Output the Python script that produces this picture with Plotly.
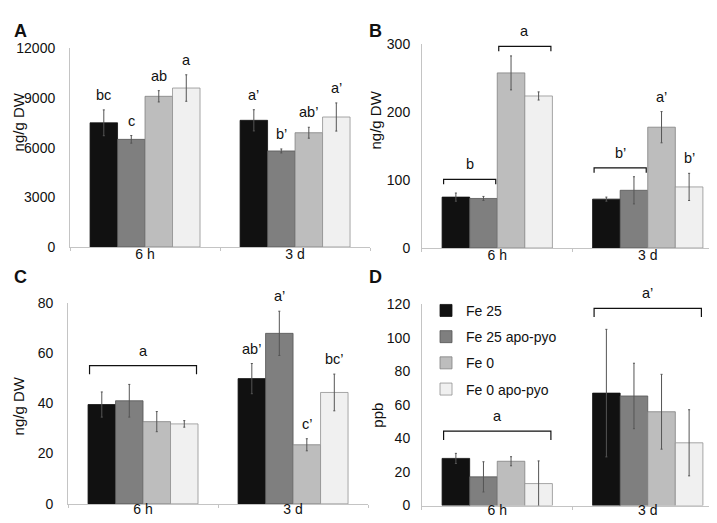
import plotly.graph_objects as go

categories = ["6 h", "3 d"]
series = ["Fe 25", "Fe 25 apo-pyo", "Fe 0", "Fe 0 apo-pyo"]
colors = ["#111111", "#7f7f7f", "#bdbdbd", "#f0f0f0"]
outlines = ["#111111", "#555555", "#808080", "#909090"]

# rows = series, columns = categories
a_means = [[7500, 7650], [6500, 5800], [9100, 6900], [9600, 7850]]
a_err = [[780, 640], [230, 120], [340, 330], [800, 850]]
a_letters = [["bc", "a’"], ["c", "b’"], ["ab", "ab’"], ["a", "a’"]]

b_means = [[75, 72], [73, 85], [258, 178], [224, 90]]
b_err = [[6, 3], [3, 20], [25, 23], [6, 20]]
b_letters = [[None, None], [None, None], [None, "a’"], [None, "b’"]]

c_means = [[39.5, 49.8], [41, 67.8], [32.7, 23.5], [31.8, 44.3]]
c_err = [[5, 6], [6.5, 8.8], [4, 2.4], [1.3, 7.3]]
c_letters = [[None, "ab’"], [None, "a’"], [None, "c’"], [None, "bc’"]]

d_means = [[28.1, 67], [17.1, 65.3], [26.4, 55.9], [13.1, 37.4]]
d_err = [[3, 38], [9, 19.5], [2.7, 22.3], [13.5, 19.7]]
d_letters = [[None, None], [None, None], [None, None], [None, None]]

# brackets: (category index, first bar, last bar, height, label)
b_brackets = [(0, 0, 1, 101, "b"), (0, 2, 3, 297, "a"), (1, 0, 1, 118, "b’")]
c_brackets = [(0, 0, 3, 55, "a")]
d_brackets = [(0, 0, 3, 44.3, "a"), (1, 0, 3, 117.5, "a’")]

panels = [
    dict(name="A", means=a_means, err=a_err, letters=a_letters, brackets=[],
         ymax=12000, dtick=3000, ytitle="ng/g DW",
         xdom=[0.0865, 0.505], ydom=[0.5444, 0.9363], tip=5,
         titlex=0.015, titley=0.7916, standoff=11, xstand=-6),
    dict(name="B", means=b_means, err=b_err, letters=b_letters, brackets=b_brackets,
         ymax=300, dtick=100, ytitle="ng/g DW",
         xdom=[0.5774, 0.9972], ydom=[0.5424, 0.944], tip=5,
         titlex=0.513, titley=0.7954, standoff=8, xstand=-6),
    dict(name="C", means=c_means, err=c_err, letters=c_letters, brackets=c_brackets,
         ymax=80, dtick=20, ytitle="ng/g DW",
         xdom=[0.0837, 0.5022], ydom=[0.0377, 0.4346], tip=9,
         titlex=0.015, titley=0.2314, standoff=11, xstand=-8),
    dict(name="D", means=d_means, err=d_err, letters=d_letters, brackets=d_brackets,
         ymax=120, dtick=20, ytitle="ppb",
         xdom=[0.5774, 0.9972], ydom=[0.0344, 0.4316], tip=9,
         titlex=0.515, titley=0.2122, standoff=8, xstand=-8),
]

bargap = 0.267
group_w = 1 - bargap
bar_w = group_w / len(series)


def bar_center(cat, i):
    return cat - group_w / 2 + (i + 0.5) * bar_w


FONT = "Liberation Sans, Arial, sans-serif"
fig = go.Figure()
annotations = []
shapes = []
layout = {}

for p_idx, p in enumerate(panels):
    suffix = "" if p_idx == 0 else str(p_idx + 1)
    xa, ya = "x" + suffix, "y" + suffix
    for i, s in enumerate(series):
        fig.add_trace(go.Bar(
            x=categories, y=p["means"][i], name=s,
            xaxis=xa, yaxis=ya, offsetgroup=str(i),
            marker=dict(color=colors[i], line=dict(color=outlines[i], width=0.8)),
            error_y=dict(type="data", array=p["err"][i], color="#555555",
                         thickness=1, width=1),
            showlegend=(p["name"] == "D"), legendgroup=s,
        ))
        for c in range(len(categories)):
            lab = p["letters"][i][c]
            if lab:
                annotations.append(dict(
                    x=bar_center(c, i), y=p["means"][i][c] + p["err"][i][c],
                    xref=xa, yref=ya, text=lab, showarrow=False,
                    yanchor="bottom", yshift=5, font=dict(size=14.5, color="#111111")))

    plot_h = (p["ydom"][1] - p["ydom"][0]) * 523
    tip = p["tip"] / plot_h * p["ymax"]
    for cat, first, last, h, lab in p["brackets"]:
        x0 = bar_center(cat, first) - bar_w / 2 + 0.01
        x1 = bar_center(cat, last) + bar_w / 2 - 0.01
        shapes.append(dict(
            type="path", xref=xa, yref=ya,
            path=f"M {x0} {h - tip} L {x0} {h} L {x1} {h} L {x1} {h - tip}",
            line=dict(color="#111111", width=1.2)))
        annotations.append(dict(
            x=(x0 + x1) / 2, y=h, xref=xa, yref=ya, text=lab, showarrow=False,
            yanchor="bottom", yshift=5, font=dict(size=14.5, color="#111111")))

    layout["xaxis" + suffix] = dict(
        domain=p["xdom"], anchor=ya, type="category", range=[-0.5, 1.5],
        showline=True, linecolor="#c4c4c4", linewidth=1,
        ticks="outside", tickson="boundaries", ticklen=3, tickcolor="#c4c4c4",
        showgrid=False, zeroline=False, ticklabelstandoff=p["xstand"],
        tickfont=dict(size=14, color="#111111"))
    layout["yaxis" + suffix] = dict(
        domain=p["ydom"], anchor=xa, range=[0, p["ymax"]], dtick=p["dtick"],
        tick0=0, tickformat="d", showline=True, linecolor="#c4c4c4", linewidth=1,
        ticks="", showgrid=False, zeroline=False, ticklabelstandoff=p["standoff"],
        tickfont=dict(size=14, color="#111111"))

    annotations.append(dict(
        x=p["titlex"], y=p["titley"], xref="paper", yref="paper",
        text=p["ytitle"], textangle=-90, showarrow=False,
        xanchor="center", yanchor="middle",
        font=dict(size=15, color="#111111")))
    letter_x = 0.005 if p["name"] in ("A", "C") else 0.5
    letter_y = 0.995 if p["name"] in ("A", "B") else 0.508
    annotations.append(dict(
        x=letter_x, y=letter_y, xref="paper", yref="paper", text="<b>" + p["name"] + "</b>",
        showarrow=False, xanchor="left", yanchor="top",
        font=dict(size=18, color="#111111")))

fig.update_layout(
    **layout,
    width=717, height=523,
    margin=dict(l=0, r=0, t=0, b=0),
    paper_bgcolor="white", plot_bgcolor="white",
    font=dict(family=FONT, size=14, color="#111111"),
    barmode="group", bargap=bargap, bargroupgap=0,
    annotations=annotations, shapes=shapes,
    legend=dict(x=0.583, y=0.45, xanchor="left", yanchor="top",
                bgcolor="rgba(0,0,0,0)", font=dict(size=14),
                tracegroupgap=5, itemwidth=30),
)

fig.write_html("out.html")
